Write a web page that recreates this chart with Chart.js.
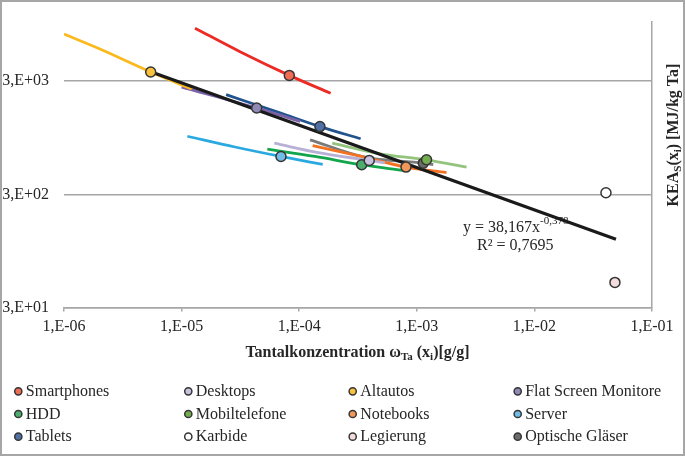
<!DOCTYPE html>
<html>
<head>
<meta charset="utf-8">
<script src="https://cdn.jsdelivr.net/npm/chart.js@4/dist/chart.umd.min.js"></script>
<style>
  html, body { margin: 0; padding: 0; background: #fff; }
  #wrap { position: relative; width: 685px; height: 456px; border: 2px solid #a6a6a6; box-sizing: border-box; }
  #chart { display: block; }
</style>
</head>
<body>
<div id="wrap"><canvas id="chart" width="681" height="452"></canvas></div>
<script>
// categories, in legend order
const categories = ["Smartphones", "Desktops", "Altautos", "Flat Screen Monitore", "HDD", "Mobiltelefone",
  "Notebooks", "Server", "Tablets", "Karbide", "Legierung", "Optische Gläser"];

// single points (circle markers)
const markerX = [8.24e-5, 3.94e-4, 5.46e-6, 4.35e-5, 3.40e-4, 1.21e-3, 8.09e-4, 7.0e-5, 1.50e-4, 4.06e-2, 4.84e-2, 1.135e-3];
const markerY = [3375, 598, 3615, 1740, 548, 606, 522, 648, 1191, 310, 50, 566];

// curves per category (same order, empty = no curve)
const curveX = [
  [1.30e-5, 3.14e-5, 8.24e-5, 1.85e-4],
  [6.14e-5, 1.50e-4, 3.94e-4, 5.37e-4],
  [1.0e-6, 2.02e-6, 5.46e-6, 1.22e-5],
  [1.0e-5, 4.35e-5, 1.02e-4],
  [5.36e-5, 1.36e-4, 3.40e-4, 7.59e-4],
  [1.91e-4, 4.86e-4, 1.21e-3, 2.65e-3],
  [1.30e-4, 3.29e-4, 8.09e-4, 1.79e-3],
  [1.12e-5, 2.84e-5, 7.0e-5, 1.585e-4],
  [2.39e-5, 6.87e-5, 1.50e-4, 3.33e-4],
  [],
  [],
  [1.236e-4, 3.63e-4, 1.135e-3, 1.38e-3]
];
const curveY = [
  [8820, 5460, 3375, 2343],
  [849, 696, 598, 568],
  [7818, 5766, 3615, 2562],
  [2655, 1740, 1320],
  [752, 648, 548, 488],
  [849, 685, 606, 522],
  [810, 652, 522, 466],
  [978, 786, 648, 551],
  [2281, 1574, 1191, 929],
  [],
  [],
  [910, 639, 566, 548]
];

// power trend line (end points)
const trendX = [5.46e-6, 4.94e-2];
const trendY = [3640, 120];
const trendText = ["y = 38,167x", "-0,378", "R² = 0,7695"];

const xTickValues = [1e-6, 1e-5, 1e-4, 1e-3, 1e-2, 1e-1];
const xTickLabels = ["1,E-06", "1,E-05", "1,E-04", "1,E-03", "1,E-02", "1,E-01"];
const yTickValues = [30, 300, 3000];
const yTickLabels = ["3,E+01", "3,E+02", "3,E+03"];

const lineColors = ["#ec2b25", "#b9b0d6", "#fbb91e", "#7b62a8", "#12a54b", "#93c47d",
  "#f37221", "#2aa9e0", "#21548f", "#ffffff", "#f2d8d8", "#7a7a7a"];
const markerColors = ["#f06c52", "#c9c1dd", "#f8c13e", "#9089b6", "#4cae6c", "#74ad4f",
  "#f0985a", "#72bde8", "#4f6fa5", "#ffffff", "#f3dcdc", "#6b6b6b"];

const FONT = "'Liberation Serif', 'Times New Roman', serif";
const TXT = "#262626";
const GRID = "#a6a6a6";

Chart.defaults.font.family = FONT;
Chart.defaults.font.size = 16;
Chart.defaults.color = TXT;

const datasets = [];
categories.forEach((name, i) => {
  datasets.push({
    label: name,
    data: [{ x: markerX[i], y: markerY[i] }],
    pointRadius: 5,
    pointBorderWidth: 1.5,
    pointBorderColor: "#353535",
    pointBackgroundColor: markerColors[i],
    showLine: false,
    order: 0
  });
  if (curveX[i].length) {
    datasets.push({
      label: name + " Kurve",
      data: curveX[i].map((x, k) => ({ x, y: curveY[i][k] })),
      showLine: true,
      borderColor: lineColors[i],
      borderWidth: 2.8,
      pointRadius: 0,
      cubicInterpolationMode: "monotone",
      order: 2
    });
  }
});
datasets.push({
  label: "Trend",
  data: trendX.map((x, k) => ({ x, y: trendY[k] })),
  showLine: true,
  borderColor: "#1a1a1a",
  borderWidth: 3.2,
  pointRadius: 0,
  order: 1
});

// text drawn onto canvas: sub/superscripts, trend label, legend grid
function drawRich(ctx, parts, x, y) {
  parts.forEach(p => {
    ctx.font = p.font;
    ctx.fillText(p.t, x, y + (p.dy || 0));
    x += ctx.measureText(p.t).width;
  });
}
function richWidth(ctx, parts) {
  let w = 0;
  parts.forEach(p => { ctx.font = p.font; w += ctx.measureText(p.t).width; });
  return w;
}

const textPlugin = {
  id: "texts",
  beforeDatasetsDraw(chart) {
    const ctx = chart.ctx;
    ctx.save();
    ctx.fillStyle = TXT;
    ctx.textBaseline = "alphabetic";
    ctx.textAlign = "left";
    drawRich(ctx, [
      { t: trendText[0], font: "16px " + FONT },
      { t: trendText[1], font: "11px " + FONT, dy: -8 }
    ], 461, 230);
    ctx.font = "16px " + FONT;
    ctx.fillText(trendText[2], 475, 247.5);
    ctx.restore();
  },
  afterDraw(chart) {
    const ctx = chart.ctx;
    ctx.save();
    ctx.fillStyle = TXT;
    ctx.textBaseline = "alphabetic";
    ctx.textAlign = "left";
    const B = "bold 16px " + FONT, S = "bold 11px " + FONT;

    // x axis title
    const xt = [
      { t: "Tantalkonzentration ω", font: B },
      { t: "Ta", font: S, dy: 3 },
      { t: " (x", font: B },
      { t: "i", font: S, dy: 3 },
      { t: ")[g/g]", font: B }
    ];
    drawRich(ctx, xt, 355.5 - richWidth(ctx, xt) / 2, 354.5);

    // y axis title (right side, rotated)
    const yt = [
      { t: "KEA", font: B },
      { t: "S", font: S, dy: 3 },
      { t: "(x", font: B },
      { t: "i", font: S, dy: 3 },
      { t: ") [MJ/kg Ta]", font: B }
    ];
    ctx.translate(676, 133);
    ctx.rotate(-Math.PI / 2);
    drawRich(ctx, yt, -richWidth(ctx, yt) / 2, 0);
    ctx.setTransform(1, 0, 0, 1, 0, 0);

    // legend, 4 columns x 3 rows
    const colX = [16.3, 186.3, 350.7, 515.7];
    categories.forEach((name, i) => {
      const cx = colX[i % 4];
      const cy = 389.3 + Math.floor(i / 4) * 22.7;
      ctx.beginPath();
      ctx.arc(cx, cy, 3.6, 0, Math.PI * 2);
      ctx.fillStyle = markerColors[i];
      ctx.fill();
      ctx.lineWidth = 1.5;
      ctx.strokeStyle = "#353535";
      ctx.stroke();
      ctx.fillStyle = TXT;
      ctx.font = "16px " + FONT;
      ctx.fillText(name, cx + 7.5, cy + 4.5);
    });
    ctx.restore();
  }
};

new Chart(document.getElementById("chart"), {
  type: "scatter",
  data: { datasets },
  options: {
    responsive: false,
    animation: false,
    layout: { padding: { top: 20, left: 0, right: 0, bottom: 0 } },
    plugins: { legend: { display: false }, tooltip: { enabled: false } },
    scales: {
      x: {
        type: "logarithmic",
        min: 1e-6,
        max: 1e-1,
        afterBuildTicks: s => { s.ticks = xTickValues.map(v => ({ value: v })); },
        afterFit: s => { s.height = 146.5; },
        ticks: { callback: (v, i) => xTickLabels[i], padding: 6, maxRotation: 0, autoSkip: false },
        grid: { display: true, drawOnChartArea: false, drawTicks: true, tickLength: 4, color: GRID, lineWidth: 1.5 },
        border: { display: true, color: GRID, width: 1.5 }
      },
      y: {
        type: "logarithmic",
        position: "left",
        min: 30,
        max: 10000,
        afterBuildTicks: s => { s.ticks = yTickValues.map(v => ({ value: v })); },
        afterFit: s => { s.width = 62; s.paddingTop = 0; s.paddingBottom = 0; },
        ticks: { callback: (v, i) => yTickLabels[i], padding: 15, autoSkip: false },
        grid: { color: GRID, lineWidth: 1.5, drawTicks: false },
        border: { display: false }
      },
      y2: {
        type: "logarithmic",
        position: "right",
        min: 30,
        max: 10000,
        afterFit: s => { s.width = 31; s.paddingTop = 0; s.paddingBottom = 0; },
        ticks: { display: false },
        grid: { display: false },
        border: { display: true, color: GRID, width: 1.5 }
      }
    }
  },
  plugins: [textPlugin]
});
</script>
</body>
</html>
